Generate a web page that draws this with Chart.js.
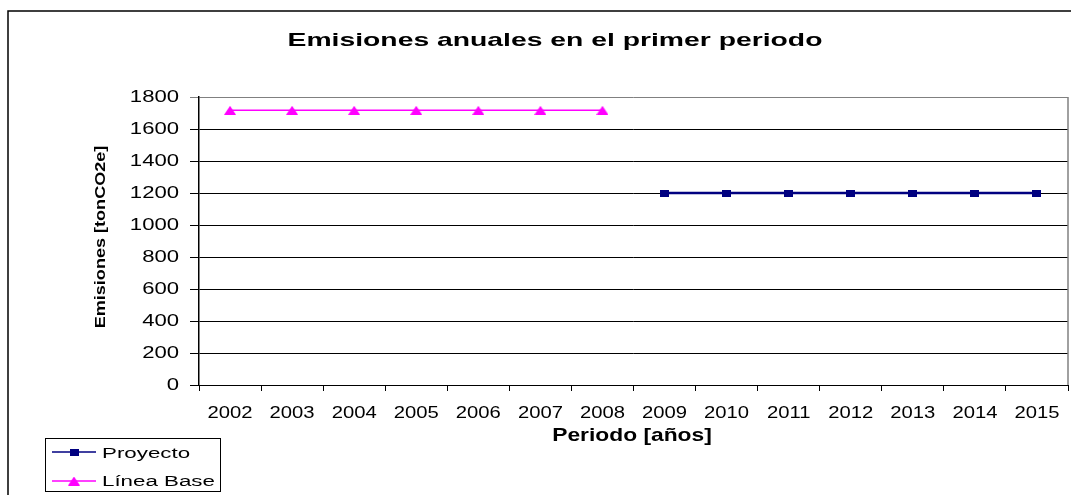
<!DOCTYPE html>
<html>
<head>
<meta charset="utf-8">
<script src="https://cdn.jsdelivr.net/npm/chart.js@4.4.0/dist/chart.umd.min.js"></script>
<style>
  html, body { margin: 0; padding: 0; background: #fff; }
  #chartWrap { width: 1076px; height: 495px; }
</style>
</head>
<body>
<div id="chartWrap"><canvas id="emisionesChart" width="1076" height="495"></canvas></div>
<script>
// data
const years = ['2002', '2003', '2004', '2005', '2006', '2007', '2008',
               '2009', '2010', '2011', '2012', '2013', '2014', '2015'];
const proyecto = [null, null, null, null, null, null, null,
                  1200, 1200, 1200, 1200, 1200, 1200, 1200];
const lineaBase = [1717, 1717, 1717, 1717, 1717, 1717, 1717,
                   null, null, null, null, null, null, null];
const yTickValues = [0, 200, 400, 600, 800, 1000, 1200, 1400, 1600, 1800];

const titleText = 'Emisiones anuales en el primer periodo';
const xTitle = 'Periodo [años]';
const yTitle = 'Emisiones [tonCO2e]';

const FONT = '"Liberation Sans", Arial, sans-serif';
const NAVY = '#000080';
const MAGENTA = '#ff00ff';

// marker images (excel markers are a bit wider than tall)
function makeSquare() {
    const c = document.createElement('canvas');
    c.width = 9; c.height = 7;
    const g = c.getContext('2d');
    g.fillStyle = NAVY;
    g.fillRect(0, 0, 9, 7);
    return c;
}
function makeTriangle() {
    const c = document.createElement('canvas');
    c.width = 12; c.height = 9;
    const g = c.getContext('2d');
    g.fillStyle = MAGENTA;
    g.beginPath();
    g.moveTo(6, 0); g.lineTo(12, 9); g.lineTo(0, 9);
    g.closePath();
    g.fill();
    return c;
}
const squareImg = makeSquare();
const triangleImg = makeTriangle();

// text drawn wider than normal, like the original
function stretchText(ctx, text, x, y, font, sx, align, baseline, rot) {
    ctx.save();
    ctx.translate(x, y);
    if (rot) ctx.rotate(rot);
    ctx.scale(sx, 1);
    ctx.font = font;
    ctx.fillStyle = '#000';
    ctx.textAlign = align;
    ctx.textBaseline = baseline;
    ctx.fillText(text, 0, 0);
    ctx.restore();
}

const excelLook = {
    id: 'excelLook',
    beforeDraw(chart) {
        const ctx = chart.ctx;
        ctx.save();
        ctx.fillStyle = '#fff';
        ctx.fillRect(0, 0, chart.width, chart.height);
        ctx.restore();
    },
    afterDraw(chart) {
        const { ctx, chartArea: a, scales: { x, y } } = chart;

        // plot area right border
        ctx.save();
        ctx.strokeStyle = '#808080';
        ctx.lineWidth = 1.5;
        ctx.beginPath();
        ctx.moveTo(a.right, a.top);
        ctx.lineTo(a.right, a.bottom);
        ctx.stroke();
        ctx.restore();

        // tick labels
        y.ticks.forEach(t => {
            stretchText(ctx, String(t.value), 179, y.getPixelForValue(t.value),
                '17px ' + FONT, 1.3, 'right', 'middle');
        });
        x.ticks.forEach((t, i) => {
            stretchText(ctx, years[i], x.getPixelForValue(i), 418,
                '17px ' + FONT, 1.19, 'center', 'alphabetic');
        });

        // titles
        stretchText(ctx, titleText, 555, 46, 'bold 19px ' + FONT, 1.49, 'center', 'alphabetic');
        stretchText(ctx, xTitle, 632, 441, 'bold 19px ' + FONT, 1.2, 'center', 'alphabetic');
        stretchText(ctx, yTitle, 105, 237, 'bold 14px ' + FONT, 1.29, 'center', 'alphabetic', -Math.PI / 2);

        // legend box
        ctx.save();
        ctx.strokeStyle = '#000';
        ctx.lineWidth = 1;
        ctx.strokeRect(45.5, 438.5, 175, 53);
        const rows = [
            { ds: chart.data.datasets[0], y: 452, base: 457.5 },
            { ds: chart.data.datasets[1], y: 481, base: 485.5 }
        ];
        rows.forEach(r => {
            ctx.strokeStyle = r.ds.borderColor;
            ctx.lineWidth = 1.5;
            ctx.beginPath();
            ctx.moveTo(52, r.y);
            ctx.lineTo(96, r.y);
            ctx.stroke();
            const img = r.ds.pointStyle;
            ctx.drawImage(img, 74 - img.width / 2, r.y - img.height / 2);
            stretchText(ctx, r.ds.label, 102, r.base, '15.5px ' + FONT, 1.44, 'left', 'alphabetic');
        });

        // outer chart frame (top and left edges visible)
        ctx.strokeStyle = '#000';
        ctx.lineWidth = 1.5;
        ctx.beginPath();
        ctx.moveTo(1071, 11);
        ctx.lineTo(8, 11);
        ctx.lineTo(8, 495);
        ctx.stroke();
        ctx.restore();
    }
};

const ctx = document.getElementById('emisionesChart').getContext('2d');
new Chart(ctx, {
    type: 'line',
    data: {
        labels: years,
        datasets: [
            {
                label: 'Proyecto',
                data: proyecto,
                borderColor: NAVY,
                backgroundColor: NAVY,
                borderWidth: 2.5,
                pointStyle: squareImg,
                pointRadius: 5,
                tension: 0,
                spanGaps: false
            },
            {
                label: 'Línea Base',
                data: lineaBase,
                borderColor: MAGENTA,
                backgroundColor: MAGENTA,
                borderWidth: 1.5,
                pointStyle: triangleImg,
                pointRadius: 5,
                tension: 0,
                spanGaps: false
            }
        ]
    },
    options: {
        responsive: false,
        animation: false,
        events: [],
        devicePixelRatio: 1,
        layout: { padding: { left: 0, top: 97, right: 8, bottom: 0 } },
        plugins: {
            legend: { display: false },
            title: { display: false },
            tooltip: { enabled: false }
        },
        scales: {
            x: {
                offset: true,
                grid: {
                    offset: true,
                    drawOnChartArea: false,
                    drawTicks: true,
                    tickLength: 6,
                    color: '#000'
                },
                border: { display: true, color: '#000', width: 1 },
                ticks: { display: false },
                afterFit: s => { s.height = 110; }
            },
            y: {
                min: yTickValues[0],
                max: yTickValues[yTickValues.length - 1],
                ticks: { display: false, stepSize: yTickValues[1] - yTickValues[0] },
                grid: {
                    drawTicks: true,
                    tickLength: 9,
                    color: c => (c.tick && c.tick.value === 1800 ? '#808080' : '#000'),
                    lineWidth: 1
                },
                border: { display: true, color: '#000', width: 1.5 },
                afterFit: s => { s.width = 199; }
            }
        }
    },
    plugins: [excelLook]
});
</script>
</body>
</html>
